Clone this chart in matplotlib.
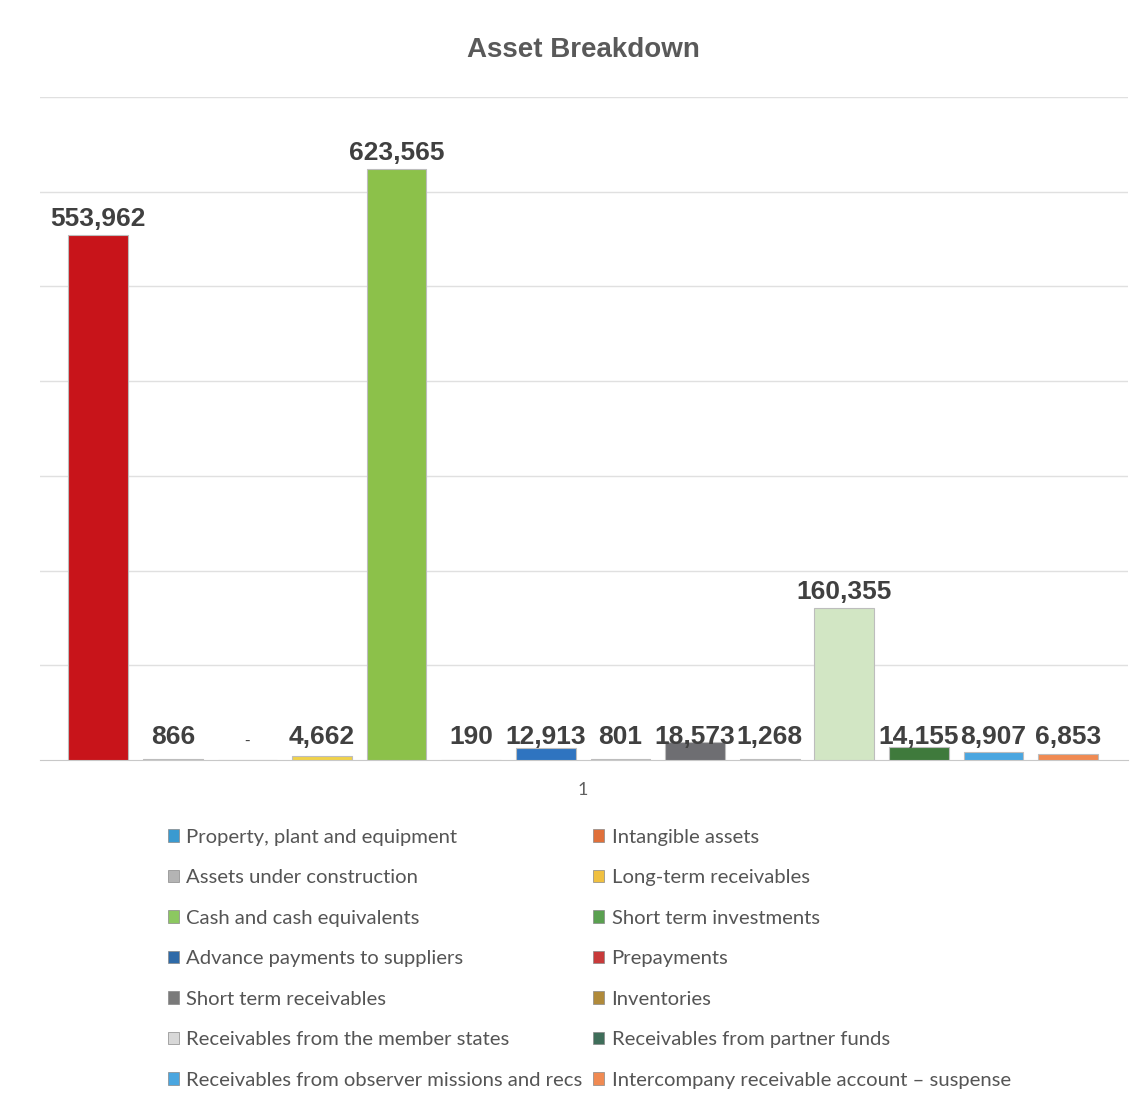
import matplotlib.pyplot as plt
from matplotlib.patches import Patch
import numpy as np

# Asset breakdown values (one category, 14 series)
labels = ['Property, plant and equipment', 'Intangible assets',
          'Assets under construction', 'Long-term receivables',
          'Cash and cash equivalents', 'Short term investments',
          'Advance payments to suppliers', 'Prepayments',
          'Short term receivables', 'Inventories',
          'Receivables from the member states', 'Receivables from partner funds',
          'Receivables from observer missions and recs',
          'Intercompany receivable account \u2013 suspense']
values = [553962, 866, 0, 4662, 623565, 190, 12913, 801, 18573, 1268,
          160355, 14155, 8907, 6853]
category = '1'

bar_colors = ['#c8141a', '#e0703a', '#9a9a9a', '#f0d24a', '#8cc14a', '#5aa050',
              '#2f74c0', '#c83a3a', '#6e6e72', '#b08a3a', '#d2e6c4', '#3f7a3c',
              '#4aa6e0', '#f08a52']
legend_colors = ['#3a9ad0', '#e0703a', '#b4b4b4', '#f0c040', '#8cc860', '#5aa050',
                 '#2f6aa8', '#c83a3a', '#7a7a7a', '#b08a3a', '#d8d8d8', '#3f6e5a',
                 '#4aa6e0', '#f08a52']

fig = plt.figure(figsize=(11.41, 11.04), dpi=100)
ax = fig.add_axes([0.035, 0.3116, 0.9535, 0.6005])

x = np.arange(len(values))
ax.bar(x, values, width=0.8, color=bar_colors, edgecolor='#bdbdbd', linewidth=0.8, zorder=3)

# small values get their labels on one common line, as in the source chart
for xi, v in zip(x, values):
    txt = f'{v:,}' if v else '-'
    y = v if v > 100000 else 7000
    ax.annotate(txt, (xi, y), xytext=(0, 3), textcoords='offset points',
                ha='center', va='bottom', fontsize=19 if v else 12,
                fontweight='bold' if v else 'normal',
                family='Liberation Sans', color='#404040', zorder=4)

ax.set_ylim(0, 700000)
ax.set_xlim(-0.78, 13.8)
ax.set_yticks(np.arange(100000, 700001, 100000))
ax.yaxis.grid(True, color='#e0e0e0', linewidth=1, zorder=0)
ax.tick_params(axis='y', left=False, labelleft=False)
ax.set_xticks([6.5])
ax.set_xticklabels([category], fontsize=13, color='#606060', family='Lato')
ax.tick_params(axis='x', length=0, pad=16)
for s in ['top', 'right', 'left']:
    ax.spines[s].set_visible(False)
ax.spines['bottom'].set_color('#c8c8c8')

fig.text(0.511, 0.955, 'Asset Breakdown', ha='center', va='center', fontsize=20,
         fontweight='bold', family='Liberation Sans', color='#595959')

handles = [Patch(facecolor=c, edgecolor='#888888', linewidth=0.5) for c in legend_colors]
common = dict(frameon=False, handlelength=0.55, handleheight=0.55,
              handletextpad=0.35, labelspacing=1.16, labelcolor='#555555',
              prop={'family': 'Lato', 'size': 14.6}, loc='upper left')
leg1 = fig.legend(handles[0::2], labels[0::2], bbox_to_anchor=(0.131, 0.266), **common)
leg2 = fig.legend(handles[1::2], labels[1::2], bbox_to_anchor=(0.504, 0.266), **common)

fig.savefig('out.png', dpi=100, facecolor='white')
